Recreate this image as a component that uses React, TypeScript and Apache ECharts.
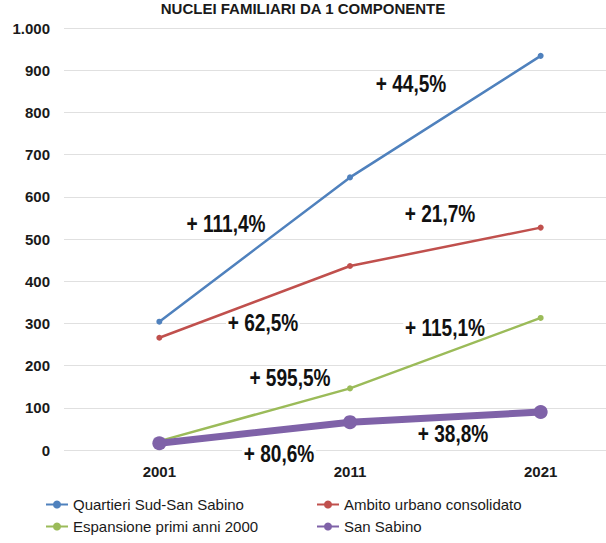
import React, { useEffect, useRef } from "react";
import * as echarts from "echarts";

const years = ["2001", "2011", "2021"];
const quartieriSud = [304, 646, 934];
const ambitoUrbano = [266, 436, 527];
const espansione = [21, 146, 313];
const sanSabino = [16, 66, 90];
const yTicks = [0, 100, 200, 300, 400, 500, 600, 700, 800, 900, 1000];

const annotations = [
  { text: "+ 44,5%", x: 411, y: 84 },
  { text: "+ 111,4%", x: 226, y: 224 },
  { text: "+ 21,7%", x: 440, y: 214 },
  { text: "+ 62,5%", x: 263, y: 323 },
  { text: "+ 115,1%", x: 445, y: 328 },
  { text: "+ 595,5%", x: 290, y: 378 },
  { text: "+ 38,8%", x: 453, y: 434 },
  { text: "+ 80,6%", x: 279, y: 454 },
];

const FONT = "'Liberation Sans', Arial, sans-serif";

export default function App() {
  const ref = useRef<HTMLDivElement>(null);
  useEffect(() => {
    document.body.style.margin = "0";
    const chart = echarts.init(ref.current!, null, { renderer: "svg" });
    const legendText = { fontFamily: FONT, fontSize: 15, color: "#1a1a1a" };
    const mk = (name: string, left: number, top: number) => ({
      show: true,
      data: [name],
      left,
      top,
      itemWidth: 22,
      itemHeight: 10,
      itemGap: 2,
      padding: 0,
      textStyle: legendText,
      selectedMode: false,
    });
    chart.setOption({
      animation: false,
      backgroundColor: "#ffffff",
      title: {
        text: "NUCLEI FAMILIARI DA 1 COMPONENTE",
        left: "center",
        top: 1,
        padding: 0,
        textStyle: { fontFamily: FONT, fontSize: 15, fontWeight: "bold", color: "#1a1a1a" },
      },
      grid: { left: 64, top: 28, width: 572, height: 422, outerBoundsMode: "none" },
      xAxis: {
        type: "category",
        data: years,
        boundaryGap: true,
        axisLine: { show: false },
        axisTick: { show: false },
        axisLabel: { fontFamily: FONT, fontSize: 15, fontWeight: "bold", color: "#1a1a1a", margin: 14 },
      },
      yAxis: {
        type: "value",
        min: 0,
        max: 1000,
        interval: 100,
        axisLine: { show: false },
        axisTick: { show: false },
        splitLine: { lineStyle: { color: "#e0e0e0", width: 1 } },
        axisLabel: {
          fontFamily: FONT,
          fontSize: 15,
          fontWeight: "bold",
          color: "#1a1a1a",
          margin: 14,
          formatter: (v: number) => (yTicks.includes(v) ? (v === 1000 ? "1.000" : String(v)) : ""),
        },
      },
      legend: [
        mk("Quartieri Sud-San Sabino", 45, 497),
        mk("Ambito urbano consolidato", 316, 497),
        mk("Espansione primi anni 2000", 45, 519),
        mk("San Sabino", 316, 519),
      ],
      series: [
        {
          name: "Quartieri Sud-San Sabino",
          type: "line",
          data: quartieriSud,
          color: "#4F81BD",
          lineStyle: { width: 2.5 },
          symbol: "circle",
          symbolSize: 6,
        },
        {
          name: "Ambito urbano consolidato",
          type: "line",
          data: ambitoUrbano,
          color: "#C0504D",
          lineStyle: { width: 2.5 },
          symbol: "circle",
          symbolSize: 6,
        },
        {
          name: "Espansione primi anni 2000",
          type: "line",
          data: espansione,
          color: "#9BBB59",
          lineStyle: { width: 2.5 },
          symbol: "circle",
          symbolSize: 6,
        },
        {
          name: "San Sabino",
          type: "line",
          data: sanSabino,
          color: "#7F62A8",
          lineStyle: { width: 7 },
          symbol: "circle",
          symbolSize: 14,
        },
      ],
      graphic: annotations.map((a) => ({
        type: "text",
        x: a.x,
        y: a.y,
        scaleX: 0.83,
        z: 1,
        style: {
          text: a.text,
          fontFamily: FONT,
          fontSize: 23,
          fontWeight: "bold",
          fill: "#111111",
          align: "center",
          verticalAlign: "middle",
          backgroundColor: "#ffffff",
          padding: [0, 2],
        },
      })),
    });
    return () => chart.dispose();
  }, []);
  return <div ref={ref} style={{ width: 606, height: 543 }} />;
}
